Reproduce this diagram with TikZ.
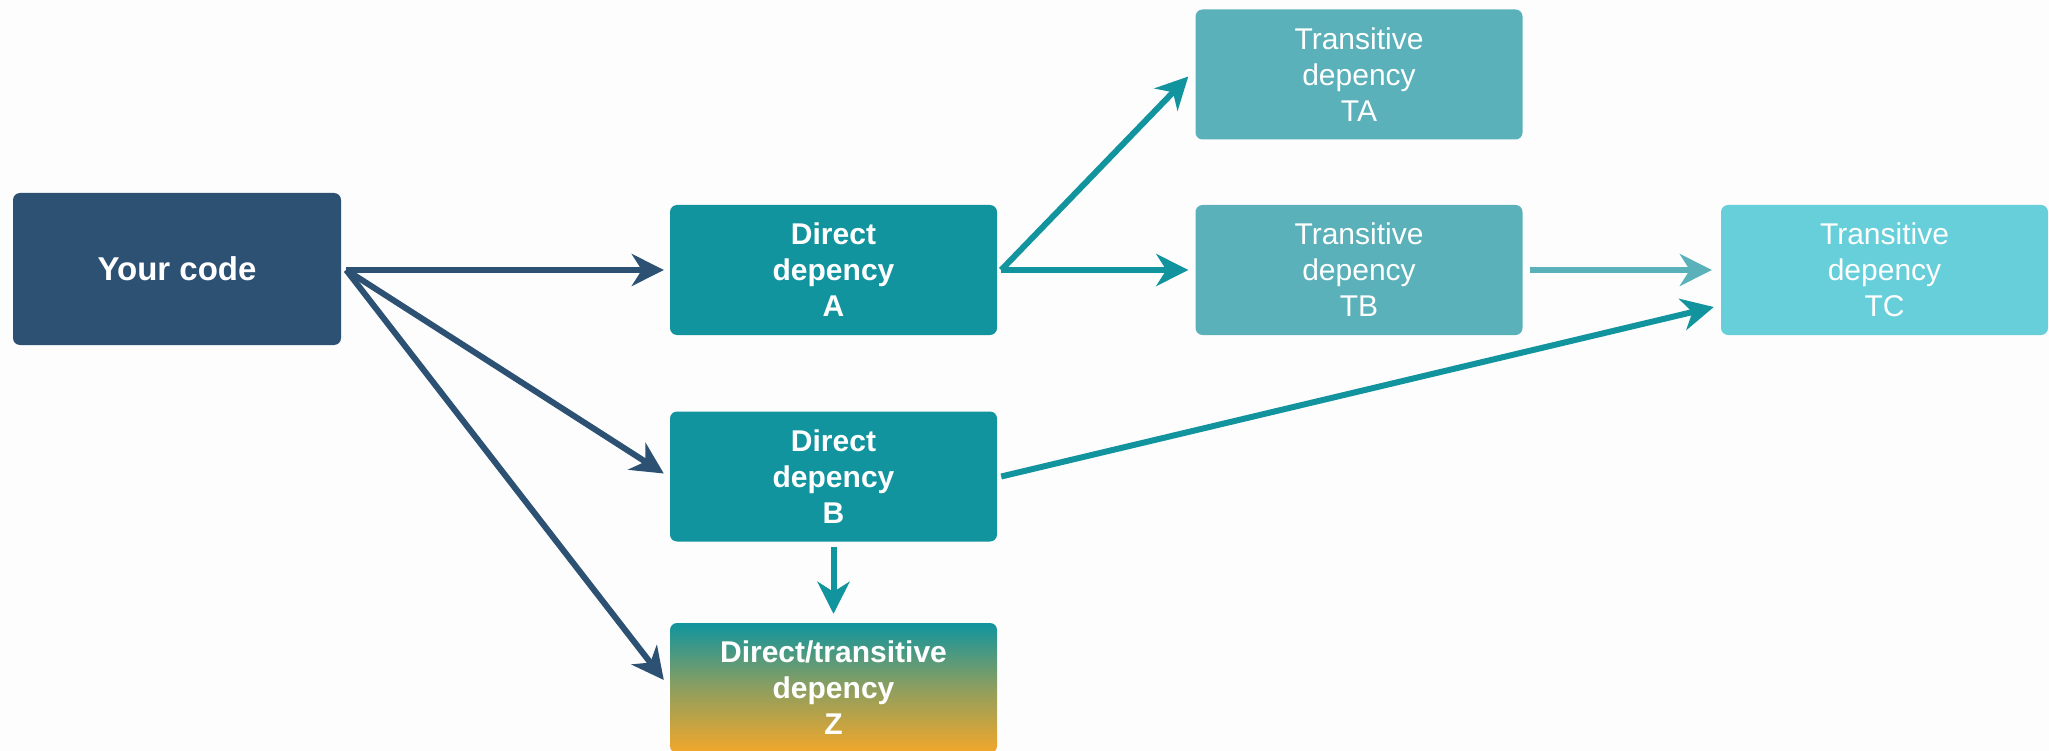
\documentclass[tikz,border=0pt]{standalone}
\usepackage{fontspec}
\setmainfont{Liberation Sans}
\usetikzlibrary{arrows.meta,calc}
\definecolor{navy}{HTML}{2C5173}
\definecolor{teal1}{HTML}{11949E}
\definecolor{teal2}{HTML}{5AB1B9}
\definecolor{teal3}{HTML}{66CFDA}
\definecolor{orng}{HTML}{F3A72B}
\definecolor{bgc}{HTML}{FDFDFD}
\tikzset{
  box/.style={rectangle, rounded corners=7pt, minimum width=327pt, minimum height=130pt,
    text=white, align=center, inner sep=0pt, font=\fontsize{30}{36}\selectfont},
  boldbox/.style={box, font=\fontsize{30}{36}\selectfont\bfseries},
  conn/.style={line width=6pt, -{Stealth[length=32pt,width=32pt,inset=10pt]}},
}
\begin{document}
\begin{tikzpicture}[x=1pt,y=-1pt]
\fill[bgc] (0,0) rectangle (2049,751);
\useasboundingbox (0,0) rectangle (2049,751);
\node[boldbox, fill=navy, minimum width=328pt, minimum height=152pt, font=\fontsize{33}{38}\selectfont\bfseries] (yc) at (177,269) {Your code};
\node[boldbox, fill=teal1] (A) at (833.5,270) {Direct\\depency\\A};
\node[box, fill=teal2] (TA) at (1359,74.5) {Transitive\\depency\\TA};
\node[box, fill=teal2] (TB) at (1359,270) {Transitive\\depency\\TB};
\node[box, fill=teal3] (TC) at (1884.5,270) {Transitive\\depency\\TC};
\node[boldbox, fill=teal1] (B) at (833.5,476.5) {Direct\\depency\\B};
\node[boldbox, top color=teal1, bottom color=orng, middle color=teal1!45!orng] (Z) at (833.5,688) {Direct/transitive\\depency\\Z};
\coordinate (ycout) at ($(yc.east)+(5,1)$);
\coordinate (Aout) at ($(A.east)+(4,0)$);
\draw[conn, navy] (ycout) -- ($(A.west)+(-6,0)$);
\draw[conn, navy] (ycout) -- ($(B.west)+(-6,-3)$);
\draw[conn, navy] (ycout) -- ($(Z.west)+(-6,-8)$);
\draw[conn, teal1] (Aout) -- ($(TA.west)+(-7,2)$);
\draw[conn, teal1] (Aout) -- ($(TB.west)+(-7,0)$);
\draw[conn, teal2] ($(TB.east)+(7,0)$) -- ($(TC.west)+(-9,0)$);
\draw[conn, teal1] ($(B.east)+(4,0)$) -- ($(TC.west)+(-7,37)$);
\draw[conn, teal1] ($(B.south)+(0,5)$) -- ($(Z.north)+(0,-9)$);
\end{tikzpicture}
\end{document}
